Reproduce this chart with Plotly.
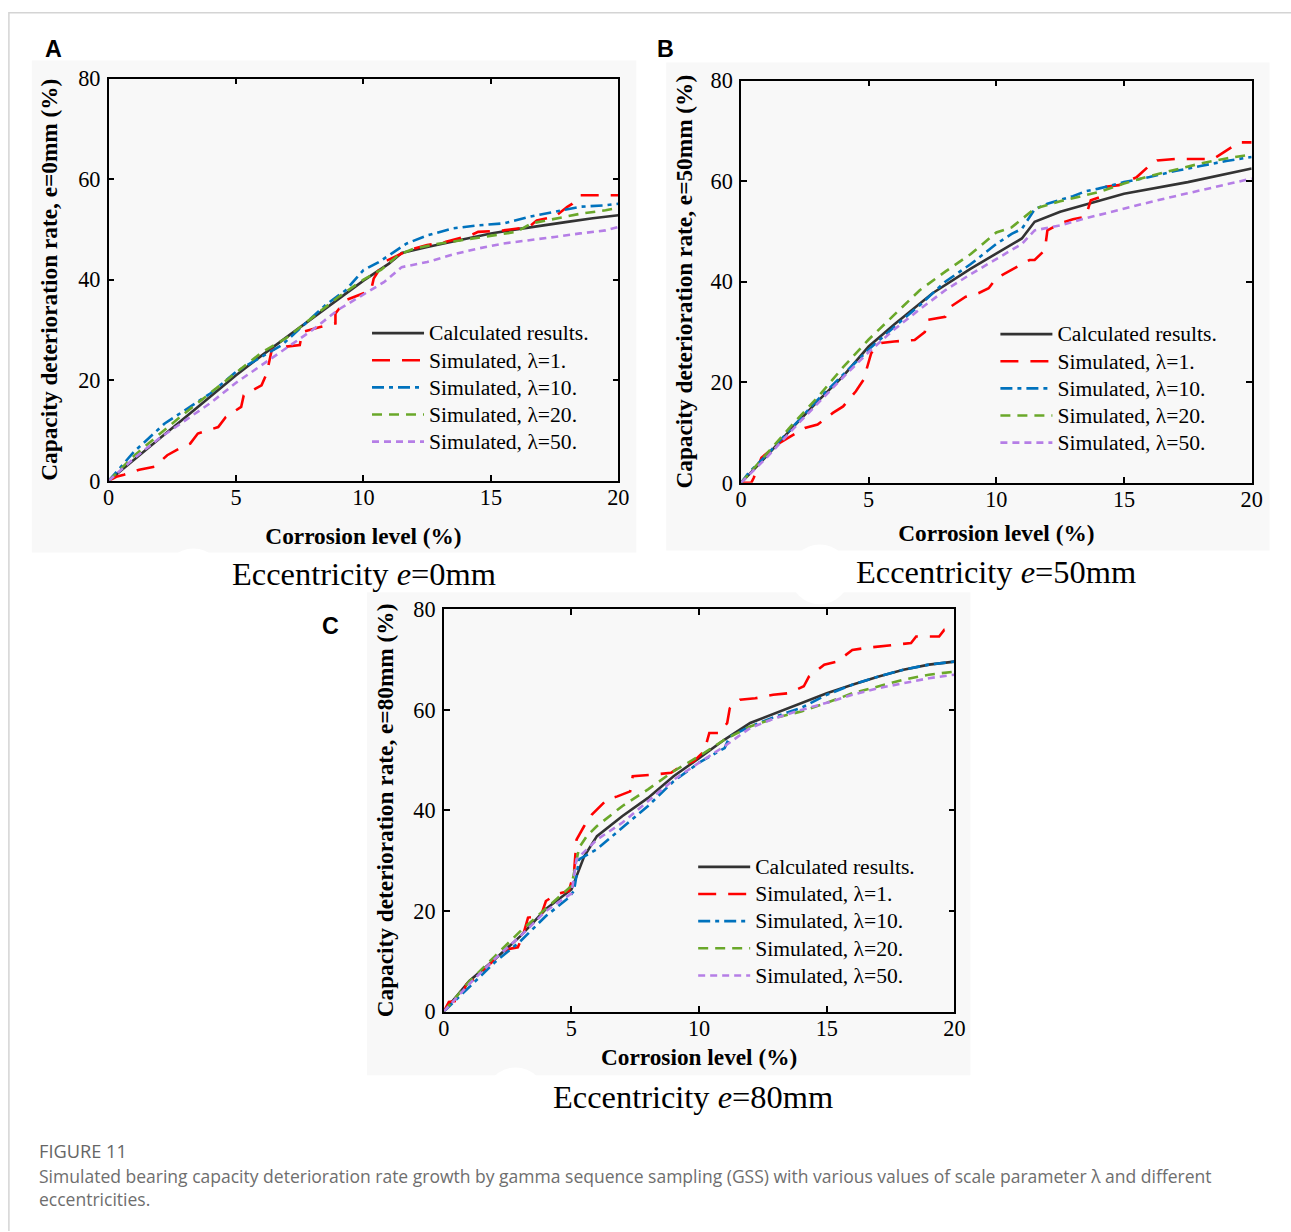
import plotly.graph_objects as go

# Measured mapping between figure pixels and the captured picture in this
# environment: picture = S * figure + C.  Layout positions below are given in
# picture pixels and converted back.
SX, CX = 0.9895, 4.1
SY, CY = 0.984, 9.2
SF = 0.987  # font scale
W = int(round((1291 - CX) / SX)) + 1
H = int(round((1232 - CY) / SY)) + 1

# ---------------- data ----------------
x_ticks = [0, 5, 10, 15, 20]
y_ticks = [0, 20, 40, 60, 80]
series_names = ["Calculated results.", "Simulated, λ=1.", "Simulated, λ=10.",
                "Simulated, λ=20.", "Simulated, λ=50."]

# Panel A, e = 0 mm
A_calc_x = [0, 0.7, 2, 3.5, 5, 6, 7, 8, 9, 10, 11, 11.5, 12.5, 14, 15, 16, 17, 18, 19, 20]
A_calc_y = [0, 3.0, 8.4, 14.7, 21.0, 24.9, 28.6, 32.4, 36.0, 39.8, 43.2, 45.3, 46.5, 48.2, 49.2, 50.0, 50.8, 51.5, 52.2, 52.8]
A_r1_x = [0, 0.3, 0.6, 1.2, 1.8, 2.3, 2.8, 3.2, 3.5, 4.3, 4.6, 5.2, 5.3, 6.0, 6.2, 6.4, 6.8, 7.5, 7.6, 8.3,
          8.9, 8.9, 9.3, 9.8, 10.3, 10.4, 10.8, 11.5, 12.0, 12.5, 13.2, 14.2, 14.5, 15.5, 16.5, 16.8, 17.5, 18.0, 18.2, 18.5, 20]
A_r1_y = [0, 0.8, 1.2, 2.2, 2.8, 5.1, 6.5, 7.4, 9.4, 10.7, 12.7, 14.7, 17.0, 19.0, 21.3, 26.0, 26.6, 27.0, 29.6, 30.6,
          31.3, 33.3, 35.9, 36.9, 37.9, 40.2, 43.5, 45.2, 46.2, 46.9, 47.5, 48.8, 49.5, 49.8, 50.5, 51.8, 52.5, 54.5, 55.1, 56.8, 56.8]
A_b10_x = [0, 0.3, 1, 2.2, 3, 4, 5, 6, 6.8, 8, 8.5, 9.3, 10, 10.6, 11.2, 11.7, 12.5, 13.5, 14.5, 15.5, 16.5, 17.5, 18.5, 19.5, 20]
A_b10_y = [0, 1.8, 5.8, 11.4, 14.0, 17.4, 21.7, 24.6, 27.0, 32.6, 34.9, 37.9, 41.9, 43.5, 45.5, 47.2, 48.8, 50.2, 50.8, 51.2, 52.5, 53.5, 54.5, 54.8, 55.1]
A_g20_x = [0, 0.3, 1, 2, 3, 4, 5, 6, 7, 8, 9, 10, 10.7, 11.4, 12, 13, 14, 15, 16, 16.6, 17.5, 18.5, 19.5, 20]
A_g20_y = [0, 1.5, 5.0, 9.3, 13.5, 17.5, 21.5, 25.5, 28.5, 32.5, 36.5, 40.0, 42.0, 45.0, 46.2, 47.2, 48.0, 48.8, 49.5, 51.2, 52.1, 53.1, 53.8, 54.3]
A_p50_x = [0, 1, 2, 3, 4, 5, 6, 7, 8, 9, 10, 10.8, 11.5, 12.5, 13.5, 14.5, 15.5, 16.5, 17.5, 18.5, 19.5, 20]
A_p50_y = [0, 4.5, 8.5, 12.0, 15.5, 19.5, 23.0, 26.5, 30.0, 34.0, 37.0, 39.5, 42.5, 43.5, 45.0, 46.2, 47.2, 47.8, 48.5, 49.2, 49.8, 50.5]

# Panel B, e = 50 mm
B_calc_x = [0, 1, 2, 3, 4, 5, 6, 7.5, 9, 10, 11, 11.5, 12.5, 15, 17.5, 20]
B_calc_y = [0, 5.3, 10.9, 16.2, 21.2, 27.1, 31.5, 37.7, 42.6, 45.6, 48.6, 51.9, 53.9, 57.5, 59.8, 62.5]
B_r1_x = [0, 0.4, 0.5, 0.8, 1.5, 2.5, 3.0, 3.6, 4.0, 4.5, 4.8, 5.1, 5.5, 6.0, 6.8, 7.2, 7.3, 8.0, 8.2, 8.8,
          9.3, 9.7, 10.0, 10.8, 11.3, 11.5, 11.9, 12.0, 12.5, 13.0, 13.5, 13.7, 14.1, 14.3, 14.8, 15.5, 16.0, 16.3,
          17.0, 18.5, 19.0, 19.5, 20]
B_r1_y = [0, 0, 1.0, 5.0, 7.9, 10.9, 11.6, 13.9, 15.2, 18.2, 20.5, 25.8, 27.8, 28.1, 28.4, 30.0, 32.4, 33.0, 35.0, 37.0,
          37.7, 38.7, 40.7, 43.0, 44.3, 44.3, 46.3, 50.2, 51.6, 52.4, 52.9, 56.2, 56.9, 58.9, 59.2, 60.8, 63.1, 64.1,
          64.4, 64.4, 66.1, 67.7, 67.7]
B_b10_x = [0, 0.3, 1, 2, 3, 4, 5, 6, 7, 8, 9, 9.5, 10, 10.6, 11, 11.5, 12, 13, 13.5, 14, 15, 16, 17, 18, 19, 20]
B_b10_y = [0, 2.0, 5.5, 11.0, 16.5, 21.5, 26.5, 31.0, 35.3, 40.0, 43.5, 45.5, 47.5, 49.5, 50.5, 54.4, 55.5, 57.0, 58.0, 58.5, 59.8, 60.8, 62.0, 63.0, 64.0, 64.8]
B_g20_x = [0, 1, 2, 3, 4, 5, 6, 7, 8, 9, 10, 10.6, 11.5, 12.5, 14, 15, 16, 17, 18, 19, 20]
B_g20_y = [0, 5.8, 11.5, 17.0, 23.0, 28.5, 33.5, 38.3, 42.0, 45.5, 49.8, 50.8, 54.5, 56.0, 57.8, 59.5, 61.0, 62.2, 63.5, 64.5, 65.3]
B_p50_x = [0, 1, 2, 3, 4, 5, 6, 7, 8, 9, 10, 11, 11.5, 12.5, 13.5, 15, 16, 17, 18, 19, 20]
B_p50_y = [0, 5.0, 10.5, 15.8, 21.0, 26.0, 30.5, 34.5, 38.3, 41.5, 44.5, 47.5, 50.2, 51.2, 52.6, 54.6, 55.8, 57.0, 58.2, 59.3, 60.5]

# Panel C, e = 80 mm
C_calc_x = [0, 1, 2, 3, 4, 5, 5.1, 5.5, 6, 7, 8, 9, 10, 11, 12, 13, 14, 15, 16, 17, 18, 19, 20]
C_calc_y = [0, 6.1, 10.4, 15.0, 20.4, 24.3, 25.6, 30.9, 34.9, 38.9, 42.5, 46.8, 50.4, 54.1, 57.4, 59.4, 61.4, 63.3, 65.0, 66.6, 68.0, 69.0, 69.6]
C_r1_x = [0, 0.2, 0.6, 0.9, 1.2, 1.6, 2.0, 2.5, 2.9, 3.1, 3.3, 3.8, 4.0, 4.4, 4.9, 5.1, 5.2, 5.5, 5.8, 6.4,
          6.8, 7.3, 7.4, 8.2, 8.9, 9.2, 9.8, 10.2, 10.4, 10.8, 11.1, 11.2, 11.6, 12.2, 12.9, 13.5, 14.1, 14.3, 14.9, 15.4,
          16.0, 16.5, 17.5, 18.3, 18.5, 19.4, 19.6, 20]
C_r1_y = [0, 1.9, 2.2, 5.5, 6.5, 8.5, 10.4, 12.4, 12.8, 15.1, 18.7, 19.0, 22.0, 23.3, 24.0, 27.6, 34.2, 36.9, 39.2, 42.2,
          42.8, 43.8, 46.8, 47.1, 47.5, 48.5, 49.8, 51.8, 55.4, 55.4, 57.4, 60.3, 62.0, 62.3, 63.0, 63.3, 64.7, 66.6, 69.0, 69.6,
          71.9, 72.3, 72.9, 73.3, 74.6, 74.6, 75.9, 75.9]
C_b10_x = [0, 1, 2, 3, 4, 4.9, 5.1, 5.3, 6, 7, 8, 9, 10, 11, 11.2, 12, 13, 14, 15, 16, 17, 18, 19, 20]
C_b10_y = [0, 5.0, 9.8, 14.0, 19.0, 22.7, 24.0, 30.3, 32.3, 36.6, 40.9, 45.8, 49.5, 52.4, 54.7, 56.7, 58.7, 60.4, 63.0, 65.0, 66.6, 68.0, 69.0, 69.6]
C_g20_x = [0, 1, 2, 3, 4, 5, 5.3, 5.6, 6, 7, 8, 9, 10, 11, 12, 13, 14, 15, 16, 17, 18, 19, 20]
C_g20_y = [0, 6.0, 11.0, 16.0, 20.5, 25.0, 32.6, 34.9, 36.9, 40.9, 44.2, 47.8, 50.8, 54.1, 56.7, 58.4, 59.7, 61.4, 63.3, 64.7, 66.0, 67.0, 67.6]
C_p50_x = [0, 1, 2, 3, 4, 5, 5.2, 6, 7, 8, 9, 10, 11, 12, 13, 14, 15, 16, 17, 18, 19, 20]
C_p50_y = [0, 5.5, 10.5, 15.0, 20.0, 23.5, 30.3, 34.2, 37.6, 41.9, 46.1, 49.5, 52.8, 56.4, 58.4, 60.0, 61.4, 63.0, 64.3, 65.3, 66.3, 67.0]

panel_series = {
    "A": [(A_calc_x, A_calc_y), (A_r1_x, A_r1_y), (A_b10_x, A_b10_y), (A_g20_x, A_g20_y), (A_p50_x, A_p50_y)],
    "B": [(B_calc_x, B_calc_y), (B_r1_x, B_r1_y), (B_b10_x, B_b10_y), (B_g20_x, B_g20_y), (B_p50_x, B_p50_y)],
    "C": [(C_calc_x, C_calc_y), (C_r1_x, C_r1_y), (C_b10_x, C_b10_y), (C_g20_x, C_g20_y), (C_p50_x, C_p50_y)],
}
y_titles = {"A": "Capacity deterioration rate, e=0mm (%)",
            "B": "Capacity deterioration rate, e=50mm (%)",
            "C": "Capacity deterioration rate, e=80mm (%)"}
captions = {"A": "Eccentricity <i>e</i>=0mm",
            "B": "Eccentricity <i>e</i>=50mm",
            "C": "Eccentricity <i>e</i>=80mm"}
x_title = "Corrosion level (%)"
fig_label = "FIGURE 11"
fig_caption_1 = ("Simulated bearing capacity deterioration rate growth by gamma sequence sampling (GSS) "
                 "with various values of scale parameter λ and different")
fig_caption_2 = "eccentricities."

# ---------------- style / layout ----------------
SERIF = "Liberation Serif, Times New Roman, serif"
SANS = "Liberation Sans, Arial, sans-serif"
CAP = "Open Sans, Noto Sans, sans-serif"
styles = [
    dict(color="#333333", dash="solid", width=2.6),
    dict(color="#ff0000", dash="18px,12px", width=2.6),
    dict(color="#0072bd", dash="12px,5px,4px,5px", width=2.6),
    dict(color="#6aa82a", dash="10px,7px", width=2.6),
    dict(color="#b57ee6", dash="7px,5px", width=2.6),
]

def fs(px):
    return px / SF

TICK_FS = fs(22)
TITLE_FS = fs(23)
LEG_TEXT_FS = fs(21.3)
LEG_ROW_FS = ((26.7 / SY) - 3) / 1.3   # sets legend row pitch
CAPTION_FS = fs(32)
LABEL_FS = fs(23)

# picture-pixel boxes (left, top, right, bottom)
plot_px = {"A": (107, 76, 618, 480), "B": (741, 78, 1253, 482), "C": (443, 609, 955, 1013)}
bg_px = {"A": (30, 58, 636, 552), "B": (666, 60, 1271, 550), "C": (366, 592, 971, 1077)}
legend_line_px = {"A": (372, 333), "B": (1002, 334), "C": (699, 869)}   # sample-line start, first row
caption_px = {"A": (363, 574), "B": (997, 572), "C": (693, 1099)}
label_px = {"A": (52, 46), "B": (665, 46), "C": (329, 626)}
bumps_px = {"A": (192, 578), "B": (820, 574), "C": (515, 1099)}
xtitle_standoff = {"A": 18, "B": 13, "C": 9}
ytitle_standoff = {"A": 14, "B": 11, "C": 13}

def fx(p):
    return (p - CX) / SX

def fy(p):
    return (p - CY) / SY

def px_x(p):
    return fx(p) / W

def px_y(p):
    return 1 - fy(p) / H

fig = go.Figure()
axis_ids = {"A": ("x", "y", "legend"), "B": ("x2", "y2", "legend2"), "C": ("x3", "y3", "legend3")}

for key, series in panel_series.items():
    xa, ya, lg = axis_ids[key]
    for name, (xs, ys), st in zip(series_names, series, styles):
        label = '<span style="font-size:%.1fpx">%s</span>' % (LEG_TEXT_FS, name)
        fig.add_trace(go.Scatter(x=xs, y=ys, mode="lines", name=label, xaxis=xa, yaxis=ya,
                                 legend=lg, line=st, showlegend=True))

layout = dict(width=W, height=H, margin=dict(l=0, r=0, t=0, b=0),
              paper_bgcolor="white", plot_bgcolor="rgba(0,0,0,0)",
              font=dict(family=SERIF, size=TICK_FS, color="black"))

for key in ["A", "B", "C"]:
    xa, ya, lg = axis_ids[key]
    l, t, r, b = plot_px[key]
    xname = "xaxis" + xa[1:]
    yname = "yaxis" + ya[1:]
    common = dict(showline=True, linecolor="black", linewidth=1.5, mirror="ticks",
                  ticks="inside", ticklen=6, tickwidth=1.5, tickcolor="black",
                  showgrid=False, zeroline=False,
                  tickfont=dict(family=SERIF, size=TICK_FS, color="black"))
    layout[xname] = dict(common, domain=[px_x(l), px_x(r)], range=[0, 20], tickvals=x_ticks,
                         anchor=ya, ticklabelstandoff=-4,
                         title=dict(text="<b>" + x_title + "</b>", standoff=xtitle_standoff[key],
                                    font=dict(family=SERIF, size=TITLE_FS, color="black")))
    layout[yname] = dict(common, domain=[px_y(b), px_y(t)], range=[0, 80], tickvals=y_ticks,
                         anchor=xa, ticklabelstandoff=2,
                         title=dict(text="<b>" + y_titles[key] + "</b>", standoff=ytitle_standoff[key],
                                    font=dict(family=SERIF, size=TITLE_FS, color="black")))
    lx, ly = legend_line_px[key]
    layout[lg] = dict(x=(fx(lx) - 6) / W, y=1 - (fy(ly) - 20.3) / H, xanchor="left", yanchor="top",
                      bgcolor="rgba(0,0,0,0)", borderwidth=0, itemwidth=52,
                      font=dict(family=SERIF, size=LEG_ROW_FS, color="black"),
                      tracegroupgap=0, itemclick=False)

shapes = [
    # page frame lines
    dict(type="line", xref="paper", yref="paper", x0=px_x(7), x1=1, y0=1 - 0.8 / H, y1=1 - 0.8 / H,
         line=dict(color="#d4d4d4", width=1.5), layer="below"),
    dict(type="line", xref="paper", yref="paper", x0=px_x(7), x1=px_x(7), y0=0, y1=1,
         line=dict(color="#d4d4d4", width=1.5), layer="below"),
]
for key in ["A", "B", "C"]:
    l, t, r, b = bg_px[key]
    shapes.append(dict(type="rect", xref="paper", yref="paper", x0=px_x(l), x1=px_x(r),
                       y0=px_y(b), y1=px_y(t), fillcolor="#f8f8f8", line=dict(width=0), layer="below"))
for key in ["A", "B", "C"]:
    cx, cy = bumps_px[key]
    rr = 30
    shapes.append(dict(type="circle", xref="paper", yref="paper", x0=px_x(cx - rr), x1=px_x(cx + rr),
                       y0=px_y(cy + rr), y1=px_y(cy - rr), fillcolor="white", line=dict(width=0),
                       layer="below"))

annotations = []
for key in ["A", "B", "C"]:
    cx, cy = caption_px[key]
    annotations.append(dict(text=captions[key], xref="paper", yref="paper", x=px_x(cx), y=px_y(cy),
                            xanchor="center", yanchor="middle", showarrow=False,
                            font=dict(family=SERIF, size=CAPTION_FS, color="black")))
    lx, ly = label_px[key]
    annotations.append(dict(text="<b>" + key + "</b>", xref="paper", yref="paper", x=px_x(lx), y=px_y(ly),
                            xanchor="center", yanchor="middle", showarrow=False,
                            font=dict(family=SANS, size=LABEL_FS, color="black")))
annotations.append(dict(text=fig_label, xref="paper", yref="paper", x=px_x(35), y=px_y(1153),
                        xanchor="left", yanchor="middle", showarrow=False,
                        font=dict(family=CAP, size=fs(18), color="#666666")))
annotations.append(dict(text=fig_caption_1, xref="paper", yref="paper", x=px_x(35), y=px_y(1178),
                        xanchor="left", yanchor="middle", showarrow=False,
                        font=dict(family=CAP, size=fs(17.3), color="#6e6e6e")))
annotations.append(dict(text=fig_caption_2, xref="paper", yref="paper", x=px_x(35), y=px_y(1201),
                        xanchor="left", yanchor="middle", showarrow=False,
                        font=dict(family=CAP, size=fs(17.3), color="#6e6e6e")))

layout["shapes"] = shapes
layout["annotations"] = annotations
fig.update_layout(**layout)
fig.write_html("out.html")
